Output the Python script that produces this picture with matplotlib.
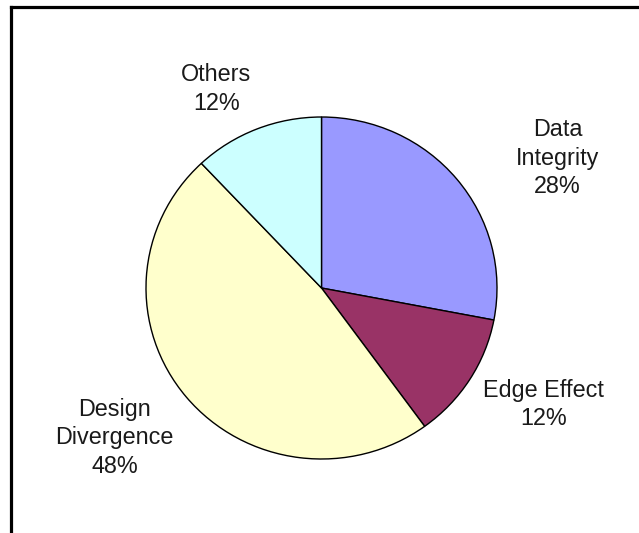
import matplotlib
matplotlib.use("Agg")
import matplotlib.pyplot as plt
from matplotlib.lines import Line2D

categories = ["Data\nIntegrity", "Edge Effect", "Design\nDivergence", "Others"]
values = [28, 12, 48, 12]
colors = ["#9999FF", "#993366", "#FFFFCC", "#CCFFFF"]

plt.rcParams['font.family'] = ['Liberation Sans', 'DejaVu Sans']

W, H = 639, 533
fig = plt.figure(figsize=(W / 100, H / 100), dpi=100)
fig.patch.set_facecolor("white")

# pie area (pixel geometry)
cx, cy, rx, ry = 321.5, 288, 175.5, 171
ax = fig.add_axes([(cx - rx) / W, (H - cy - ry) / H, 2 * rx / W, 2 * ry / H])
wedges, _ = ax.pie(values, colors=colors, startangle=90, counterclock=False,
                   radius=1, center=(0, 0),
                   wedgeprops=dict(edgecolor="black", linewidth=1.0))
ax.set_aspect("auto")
ax.set_xlim(-1, 1)
ax.set_ylim(-1, 1)
ax.axis("off")

label_pos = [(1.345, 0.76), (1.265, -0.68), (-1.18, -0.877), (-0.60, 1.164)]
for name, v, (x, y) in zip(categories, values, label_pos):
    ax.text(x, y, f"{name}\n{v}%", ha="center", va="center", fontsize=16.8,
            color="#1a1a1a", linespacing=1.3, clip_on=False)

# frame lines (top and left only)
fig.add_artist(Line2D([10.5 / W, 1], [1 - 7 / H, 1 - 7 / H], color="black",
                      linewidth=2.3, transform=fig.transFigure))
fig.add_artist(Line2D([10.5 / W, 10.5 / W], [0, 1 - 7 / H], color="black",
                      linewidth=2.3, transform=fig.transFigure))

fig.savefig("out.png", dpi=100)
